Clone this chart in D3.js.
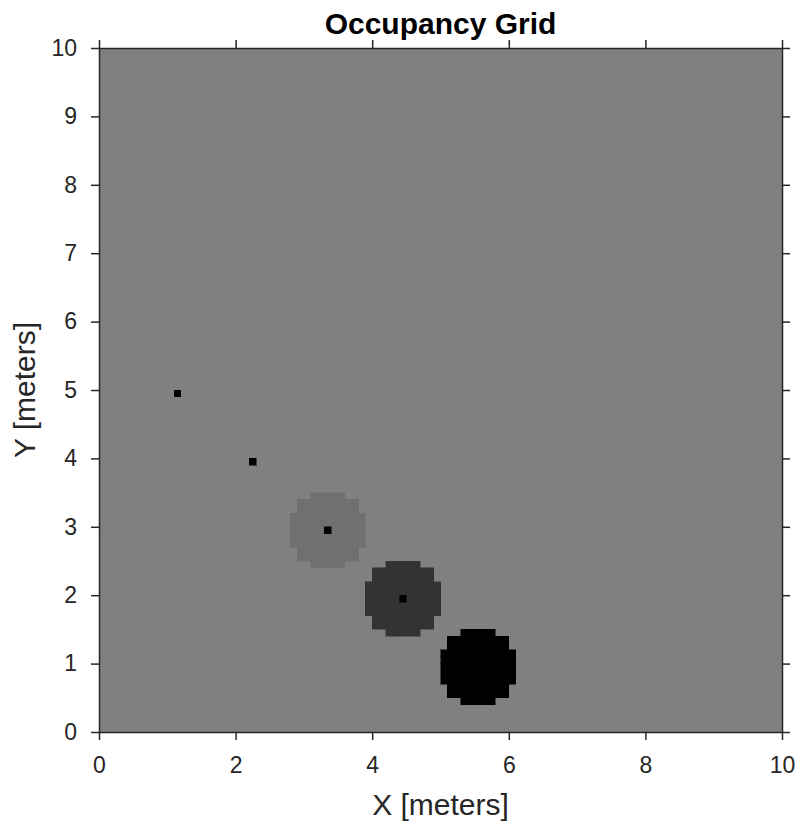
<!DOCTYPE html>
<html>
<head>
<meta charset="utf-8">
<script src="https://cdn.jsdelivr.net/npm/d3@7"></script>
<style>
  html, body { margin: 0; padding: 0; background: #ffffff; }
  svg { display: block; font-family: "Liberation Sans", Arial, Helvetica, sans-serif; }
</style>
</head>
<body>
<svg id="chart" width="800" height="825"></svg>
<script>
// Map extent and resolution (cells per meter)
const mapWidth = 10;
const mapHeight = 10;
const resolution = 10;
const defaultOccupancy = 0.5;

// Obstacle locations (meters); each marks a single occupied cell
const obstacleX = [1.2, 2.3, 3.4, 4.5, 5.6];
const obstacleY = [5.0, 4.0, 3.0, 2.0, 1.0];
const obstacleOccupancy = [1, 1, 1, 1, 1];

// Inflated regions around some obstacles with their occupancy probability
const inflatedX = [3.4, 4.5, 5.6];
const inflatedY = [3.0, 2.0, 1.0];
const inflatedOccupancy = [0.56, 0.8, 1.0];

// Inflation footprint: half-width (in cells) of each row, rows from -5 to +5
const footprintHalfWidths = [2, 4, 4, 5, 5, 5, 5, 5, 4, 4, 2];

// Axis ticks
const xTicks = [0, 2, 4, 6, 8, 10];
const yTicks = [0, 1, 2, 3, 4, 5, 6, 7, 8, 9, 10];

const title = "Occupancy Grid";
const xLabel = "X [meters]";
const yLabel = "Y [meters]";

const svg = d3.select("#chart");
const plotLeft = 99, plotRight = 782, plotTop = 48, plotBottom = 732;
const axisColor = "#262626";

const x = d3.scaleLinear().domain([0, mapWidth]).range([plotLeft, plotRight]);
const y = d3.scaleLinear().domain([0, mapHeight]).range([plotBottom, plotTop]);

// Occupancy probability -> grayscale (free = white, occupied = black)
const shade = p => {
  const v = Math.round((1 - p) * 255);
  return `rgb(${v},${v},${v})`;
};

// World coordinate -> cell index (a point on a cell's upper edge belongs to that cell)
const toCell = v => Math.ceil(v * resolution - 1e-9) - 1;

// Collect cells
const cells = [];
inflatedX.forEach((cx, i) => {
  const ci = toCell(cx), cj = toCell(inflatedY[i]);
  footprintHalfWidths.forEach((hw, r) => {
    const dj = r - (footprintHalfWidths.length - 1) / 2;
    for (let di = -hw; di <= hw; di++) {
      cells.push({ i: ci + di, j: cj + dj, p: inflatedOccupancy[i] });
    }
  });
});
obstacleX.forEach((ox, k) => {
  cells.push({ i: toCell(ox), j: toCell(obstacleY[k]), p: obstacleOccupancy[k] });
});

// Background (unknown cells)
svg.append("rect")
  .attr("x", x(0)).attr("y", y(mapHeight))
  .attr("width", x(mapWidth) - x(0)).attr("height", y(0) - y(mapHeight))
  .attr("fill", shade(defaultOccupancy));

svg.append("g")
  .attr("shape-rendering", "crispEdges")
  .selectAll("rect")
  .data(cells)
  .join("rect")
  .attr("x", d => x(d.i / resolution))
  .attr("y", d => y((d.j + 1) / resolution))
  .attr("width", d => x((d.i + 1) / resolution) - x(d.i / resolution))
  .attr("height", d => y(d.j / resolution) - y((d.j + 1) / resolution))
  .attr("fill", d => shade(d.p))
  .attr("stroke", d => shade(d.p))
  .attr("stroke-width", 0.5);

// Axes
const tickLen = 8;
const fontSize = 23;

function styleAxis(g) {
  g.select(".domain").attr("stroke", axisColor).attr("stroke-width", 1.5);
  g.selectAll(".tick line").attr("stroke", axisColor).attr("stroke-width", 1.5);
  g.selectAll(".tick text").attr("fill", axisColor).attr("font-size", fontSize)
    .attr("font-family", "Liberation Sans, Arial, sans-serif");
}

svg.append("g").attr("transform", `translate(0,${plotBottom})`)
  .call(d3.axisBottom(x).tickValues(xTicks).tickSize(tickLen).tickSizeOuter(0).tickPadding(17))
  .call(styleAxis);
svg.append("g").attr("transform", `translate(0,${plotTop})`)
  .call(d3.axisTop(x).tickValues(xTicks).tickSize(tickLen).tickSizeOuter(0).tickFormat(""))
  .call(styleAxis);
svg.append("g").attr("transform", `translate(${plotLeft},0)`)
  .call(d3.axisLeft(y).tickValues(yTicks).tickSize(tickLen).tickSizeOuter(0).tickPadding(14))
  .call(styleAxis);
svg.append("g").attr("transform", `translate(${plotRight},0)`)
  .call(d3.axisRight(y).tickValues(yTicks).tickSize(tickLen).tickSizeOuter(0).tickFormat(""))
  .call(styleAxis);

// Title and labels
svg.append("text")
  .attr("x", (plotLeft + plotRight) / 2).attr("y", 34)
  .attr("text-anchor", "middle")
  .attr("font-size", 30).attr("font-weight", "bold").attr("fill", "#000")
  .text(title);

svg.append("text")
  .attr("x", (plotLeft + plotRight) / 2).attr("y", 815)
  .attr("text-anchor", "middle")
  .attr("font-size", 30).attr("fill", axisColor)
  .text(xLabel);

svg.append("text")
  .attr("transform", `translate(35,${(plotTop + plotBottom) / 2}) rotate(-90)`)
  .attr("text-anchor", "middle")
  .attr("font-size", 30).attr("fill", axisColor)
  .text(yLabel);
</script>
</body>
</html>
